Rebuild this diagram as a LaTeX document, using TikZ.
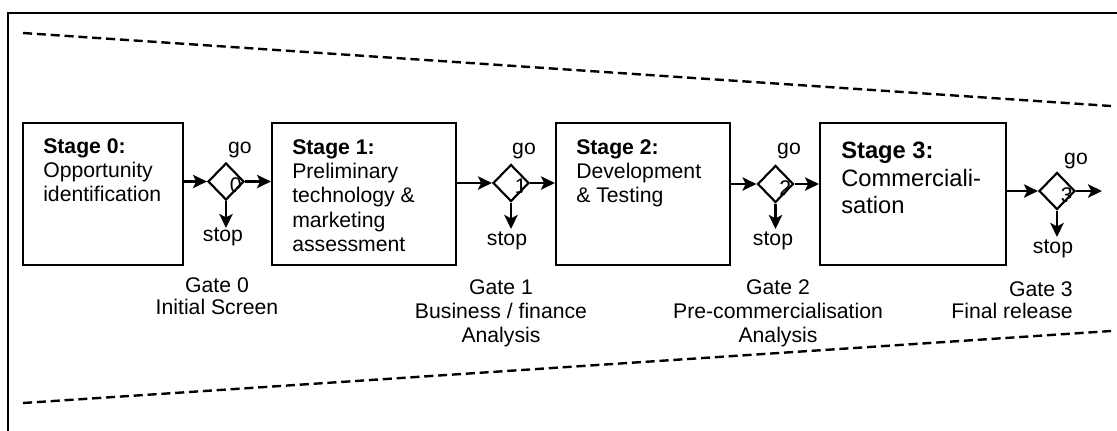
\documentclass[tikz,border=0pt]{standalone}
\usepackage{fontspec}
\setmainfont{Liberation Sans}
\usetikzlibrary{shapes.geometric,arrows.meta}

\begin{document}
\begin{tikzpicture}[x=0.75pt,y=-0.75pt,
  frameline/.style={line width=1.9pt},
  scopeline/.style={line width=1.8pt,dash pattern=on 6.8pt off 3.6pt},
  stagebox/.style={draw,line width=1.6pt,minimum height=106.5pt,inner sep=0pt},
  gatediamond/.style={diamond,draw,line width=1.6pt,minimum width=27pt,
    minimum height=27.75pt,inner sep=0pt,aspect=1},
  flow/.style={line width=1.9pt,-{Stealth[length=10.5pt,width=10pt,inset=2.5pt]}},
  basefont/.style={font=\fontsize{15.9pt}{18.3pt}\selectfont},
  stagetext/.style={basefont,anchor=north west,inner sep=0pt,align=left},
  bigstagetext/.style={anchor=north west,inner sep=0pt,align=left,
    font=\fontsize{17.8pt}{20.6pt}\selectfont},
  gatetext/.style={basefont,anchor=north,inner sep=0pt,align=center},
  decision/.style={basefont,inner sep=0pt},
  gatenum/.style={basefont,anchor=north west,inner sep=0pt}
]
\useasboundingbox (0,0) rectangle (1117,430);
\clip (0,0) rectangle (1117,430);

% outer frame (only the top and left edges fall inside the page)
\draw[frameline] (8,445) -- (8,13) -- (1135,13);

% funnel outline
\coordinate (ftl) at (23,33);
\coordinate (ftr) at (1111,106);
\coordinate (fbl) at (23,403);
\coordinate (fbr) at (1111,331);
\draw[scopeline] (ftl) -- (ftr);
\draw[scopeline] (fbl) -- (fbr);

% stages
\node[stagebox,minimum width=120pt]   (s0) at (103,194) {};
\node[stagebox,minimum width=138pt]   (s1) at (364,194) {};
\node[stagebox,minimum width=130.5pt] (s2) at (643,194) {};
\node[stagebox,minimum width=139.5pt] (s3) at (913,194) {};

\node[stagetext] (t0) at (43,138) {\textbf{Stage 0:}\\Opportunity\\identification};
\node[stagetext] (t1) at (292,139) {\textbf{Stage 1:}\\Preliminary\\technology \&\\marketing\\assessment};
\node[stagetext] (t2) at (576,139) {\textbf{Stage 2:}\\Development\\\& Testing};
\node[bigstagetext] (t3) at (841,142) {\textbf{Stage 3:}\\Commerciali-\\sation};

% gates
\node[gatediamond] (d0) at (226,181.5) {};
\node[gatediamond] (d1) at (511,183) {};
\node[gatediamond] (d2) at (775.5,184) {};
\node[gatediamond] (d3) at (1057,191) {};

% gate numbers, cut by the diamond outline
\foreach \g/\px/\py/\n in {d0/229.5/177.5/0, d1/514.5/179/1, d2/779/180/2, d3/1060.5/187/3}{
  \begin{scope}
    \clip (\g.north) -- (\g.east) -- (\g.south) -- (\g.west) -- cycle;
    \node[gatenum] (n\n) at (\px,\py) {\n};
  \end{scope}
}

% flow between stages and gates
\draw[flow] (s0.east |- d0) -- (d0.west);
\draw[flow] (d0.east) -- (s1.west |- d0);
\draw[flow] (s1.east |- d1) -- (d1.west);
\draw[flow] (d1.east) -- (s2.west |- d1);
\draw[flow] (s2.east |- d2) -- (d2.west);
\draw[flow] (d2.east) -- (s3.west |- d2);
\draw[flow] (s3.east |- d3) -- (d3.west);
\coordinate (out3) at (1102,191);
\draw[flow] (d3.east) -- (out3);

% stop exits
\coordinate (x0) at (226,228);
\coordinate (x1) at (511,229);
\coordinate (x2) at (775.5,229);
\coordinate (x3) at (1057,237);
\draw[flow] (d0.south) -- (x0);
\draw[flow] (d1.south) -- (x1);
\draw[flow] (d2.south) -- (x2);
\draw[flow] (d3.south) -- (x3);

% go / stop labels
\node[decision] (go0) at (240,150) {go};
\node[decision] (go1) at (524,151) {go};
\node[decision] (go2) at (789,151) {go};
\node[decision] (go3) at (1076,161) {go};
\node[decision] (st0) at (223,237) {stop};
\node[decision] (st1) at (507,241) {stop};
\node[decision] (st2) at (773,241) {stop};
\node[decision] (st3) at (1053,249) {stop};

% gate descriptions
\node[gatetext,font=\fontsize{15.9pt}{16.5pt}\selectfont] (g0) at (217,277) {Gate 0\\Initial Screen};
\node[gatetext] (g1) at (501,279) {Gate 1\\Business / finance\\Analysis};
\node[gatetext] (g2) at (778,279) {Gate 2\\Pre-commercialisation\\Analysis};
\node[gatetext,anchor=north east,align=right,font=\fontsize{15.9pt}{16.5pt}\selectfont] (g3) at (1073,281) {Gate 3\\Final release};
\end{tikzpicture}
\end{document}
